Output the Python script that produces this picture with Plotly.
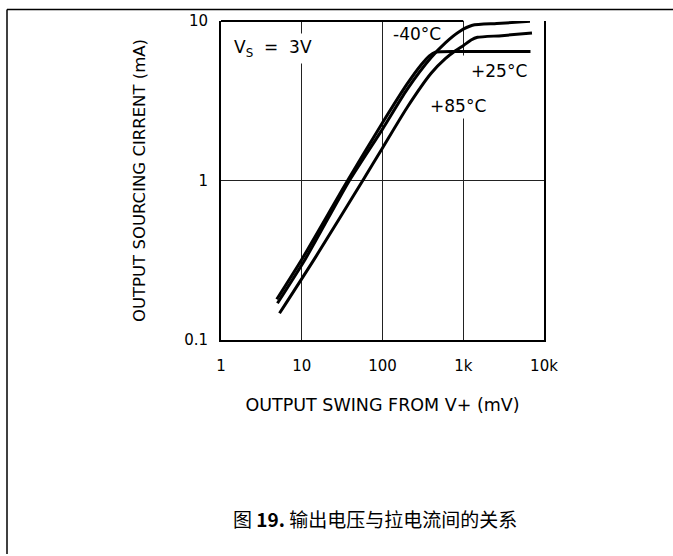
import plotly.graph_objects as go

# ---- data ----
swing_m40 = [5.0, 11, 38, 100, 200, 400, 600, 900, 1300, 2600, 6700]
curr_m40 = [0.17, 0.32, 0.98, 2.1, 3.7, 5.9, 7.3, 8.6, 9.4, 9.64, 9.95]

swing_p25 = [5.3, 14.5, 57, 100, 200, 400, 600, 800, 1000, 1250, 1500, 3000, 7100]
curr_p25 = [0.147, 0.325, 1.0, 1.6, 2.85, 4.7, 5.8, 6.5, 7.0, 7.6, 7.9, 8.09, 8.42]

swing_p85 = [4.9, 10, 37, 100, 200, 300, 380, 450, 1000, 2500, 6800]
curr_p85 = [0.18, 0.32, 1.0, 2.3, 4.0, 5.3, 6.05, 6.38, 6.44, 6.45, 6.45]

x_tickvals = [1, 10, 100, 1000, 10000]
x_ticktext = ["1", "10", "100", "1k", "10k"]
y_tickvals = [0.1, 1, 10]
y_ticktext = ["0.1", "1", "10"]

FONT = "DejaVu Sans"
W, H = 673, 556
ML, MR, MT, MB = 221, 129, 18, 216

fig = go.Figure()
for name, xs, ys in [("-40°C", swing_m40, curr_m40),
                     ("+25°C", swing_p25, curr_p25),
                     ("+85°C", swing_p85, curr_p85)]:
    fig.add_trace(go.Scatter(x=xs, y=ys, mode="lines", name=name,
                             line=dict(color="black", width=3, shape="spline", smoothing=0.6),
                             showlegend=False, hoverinfo="skip"))

axis_common = dict(
    showline=True, linecolor="black", linewidth=2,
    showgrid=True, gridcolor="#222222", gridwidth=1,
    zeroline=False, ticks="outside", tickcolor="rgba(0,0,0,0)",
    tickfont=dict(family=FONT, size=15, color="black"),
)

fig.update_xaxes(type="log", range=[0, 4], tickvals=x_tickvals, ticktext=x_ticktext,
                 ticklen=11, mirror=False,
                 title=dict(text="OUTPUT SWING FROM V+ (mV)", standoff=25,
                            font=dict(family=FONT, size=17.5, color="black")),
                 **axis_common)
fig.update_yaxes(type="log", range=[-1, 1], tickvals=y_tickvals, ticktext=y_ticktext,
                 ticklen=8, mirror=True,
                 title=dict(text="OUTPUT SOURCING CIRRENT (mA)", standoff=34,
                            font=dict(family=FONT, size=16.5, color="black")),
                 **axis_common)

# white clearance gap on the 1k gridline around the temperature labels
fig.add_annotation(x=3, y=0.646, xref="x", yref="y", text=" ", width=6, height=42,
                   showarrow=False, bgcolor="white", borderpad=0)

ann_font = dict(family=FONT, size=17, color="black")
fig.add_annotation(x=0.64, y=0.826, xref="x", yref="y", text="V<sub>S</sub>  =  3V",
                   showarrow=False, font=ann_font, bgcolor="white", borderpad=3)
fig.add_annotation(x=2.43, y=0.919, xref="x", yref="y", text="-40°C",
                   showarrow=False, font=ann_font)
fig.add_annotation(x=3.44, y=0.689, xref="x", yref="y", text="+25°C",
                   showarrow=False, font=ann_font)
fig.add_annotation(x=2.93, y=0.466, xref="x", yref="y", text="+85°C",
                   showarrow=False, font=ann_font, bgcolor="white", borderpad=2)

# caption
pw, ph = W - ML - MR, H - MT - MB
def px_x(p):
    return (p - ML) / pw
def px_y(p):
    return (H - MB - p) / ph

fig.add_annotation(x=px_x(375), y=px_y(536), xref="paper", yref="paper",
                   text="图 <b>19.</b> 输出电压与拉电流间的关系", showarrow=False,
                   font=dict(family="Noto Sans CJK SC", size=19, color="black"))

# top frame of the plot: only up to the 1k gridline (curves run above it further right)
fig.add_shape(type="line", xref="paper", yref="paper",
              x0=0, y0=1, x1=0.75, y1=1, line=dict(color="black", width=2))

# outer frame (top and left edges)
fig.add_shape(type="line", xref="paper", yref="paper",
              x0=px_x(7), y0=px_y(6.5), x1=px_x(673), y1=px_y(6.5),
              line=dict(color="black", width=1.5))
fig.add_shape(type="line", xref="paper", yref="paper",
              x0=px_x(7), y0=px_y(6.5), x1=px_x(7), y1=px_y(556),
              line=dict(color="black", width=1.5))

fig.update_layout(width=W, height=H, margin=dict(l=ML, r=MR, t=MT, b=MB, pad=0),
                  paper_bgcolor="white", plot_bgcolor="white")

fig.write_html("out.html", config={"displayModeBar": False},
               post_script="document.body.style.margin='0px';")
